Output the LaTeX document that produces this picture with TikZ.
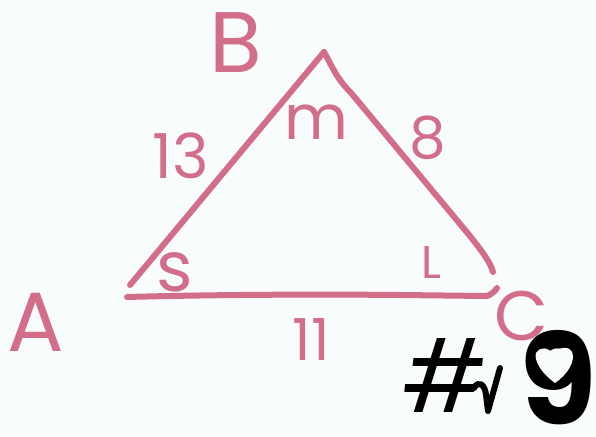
\documentclass[tikz,border=0pt]{standalone}
\usepackage{fontspec}
\setmainfont{Poppins}
\definecolor{pinkink}{HTML}{D26E89}
\definecolor{bgc}{HTML}{F8FCFD}
\tikzset{
  ink/.style={draw=pinkink,line width=6pt,line cap=round,line join=round},
  lbl/.style={text=pinkink,inner sep=0pt,anchor=center},
}
\begin{document}
\begin{tikzpicture}[x=1pt,y=-1pt]
\fill[bgc] (0,0) rectangle (596,436);
\useasboundingbox (0,0) rectangle (596,436);
% triangle
\coordinate (Ab) at (130,285);
\coordinate (Bt) at (324,52);
\coordinate (Cr) at (493,272);
\coordinate (Bl) at (127,297);
\coordinate (Br) at (487,296);
\draw[ink] (Ab) -- (Bt);
\draw[ink] (Bt) .. controls (332,66) and (336,78) .. (352,94) -- (470,236) .. controls (484,254) and (490,262) .. (Cr);
\draw[ink] (Bl) .. controls (200,295) and (300,294) .. (400,295) -- (Br) .. controls (492,294) and (495,291) .. (497,288);
% labels
\node[lbl,font=\fontsize{86}{86}\selectfont] (B) at (236,43) {B};
\node[lbl,font=\fontsize{62}{62}\selectfont] (s13) at (181,156) {13};
\node[lbl,font=\fontsize{62}{62}\selectfont] (m) at (316,122) {m};
\node[lbl,font=\fontsize{58}{58}\selectfont] (e8) at (428,138) {8};
\node[lbl,font=\fontsize{70}{70}\selectfont] (s) at (175,272) {s};
\node[lbl,font=\fontsize{46}{46}\selectfont] (L) at (431,262) {L};
\node[lbl,font=\fontsize{84}{84}\selectfont] (A) at (36,322) {A};
\node[lbl,font=\fontsize{70}{70}\selectfont] (C) at (522,316) {C};
\node[lbl,font=\fontsize{58}{58}\selectfont] (e11) at (311,340) {11};
% #9
\node[inner sep=0pt,text=black,anchor=base,text depth=0pt,font=\fontsize{100}{100}\selectfont,xslant=0.1] (hash) at (441,412) {\#};
\draw[black,line width=6pt,line cap=round,line join=round] (474,388) .. controls (478,380) and (485,384) .. (486,395) -- (488,411) -- (500,368);
\node[inner sep=0pt,text=black,anchor=base,text depth=0pt,font=\fontsize{126}{126}\selectfont\bfseries] (nine) at (558,424) {9};
\fill[bgc] (555,383) .. controls (540,372) and (534,360) .. (536,353) .. controls (539,347) and (548,346) .. (554,355) .. controls (558,347) and (568,345) .. (572,352) .. controls (576,361) and (567,375) .. (555,383) -- cycle;
\end{tikzpicture}
\end{document}
